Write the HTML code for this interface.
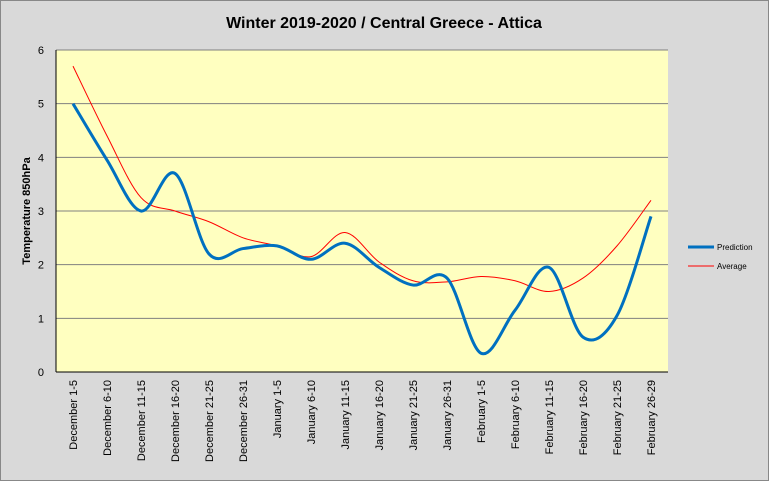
<!DOCTYPE html>
<html><head><meta charset="utf-8"><style>
html,body{margin:0;padding:0;overflow:hidden;background:#d9d9d9;font-family:"Liberation Sans",sans-serif}
svg{display:block}
</style></head><body>
<svg width="769" height="481" xmlns="http://www.w3.org/2000/svg" id="chart">
<rect x="0.5" y="0.5" width="768" height="480" fill="#d9d9d9" stroke="#888"/>
<text x="384" y="28" text-anchor="middle" font-size="16" font-weight="bold">Winter 2019-2020 / Central Greece - Attica</text>
<rect x="56" y="50" width="612" height="322" fill="#ffffc0"/>
<g id="grid"></g><g id="series"></g><g id="labels"></g>
<text transform="translate(30,211) rotate(-90)" text-anchor="middle" font-size="11" font-weight="bold">Temperature 850hPa</text>
<g>
<line x1="688" y1="247" x2="714" y2="247" stroke="#0070c0" stroke-width="3"/>
<text x="717" y="250" font-size="8">Prediction</text>
<line x1="688" y1="266" x2="714" y2="266" stroke="#ff0000" stroke-width="1"/>
<text x="717" y="269" font-size="8">Average</text>
</g>
</svg>
<script>
const categories=["December 1-5","December 6-10","December 11-15","December 16-20","December 21-25","December 26-31","January 1-5","January 6-10","January 11-15","January 16-20","January 21-25","January 26-31","February 1-5","February 6-10","February 11-15","February 16-20","February 21-25","February 26-29"];
const prediction=[5.0,3.95,3.0,3.7,2.2,2.3,2.35,2.1,2.4,1.95,1.62,1.75,0.35,1.15,1.95,0.65,1.05,2.9];
const average=[5.7,4.4,3.25,3.0,2.8,2.5,2.35,2.15,2.6,2.05,1.7,1.68,1.78,1.7,1.5,1.75,2.35,3.2];
const yTicks=[0,1,2,3,4,5,6];
const NS="http://www.w3.org/2000/svg";
const X0=56,W=612,Y0=372,H=322,YMAX=6;
const xs=i=>X0+(i+0.5)*W/categories.length;
const ys=v=>Y0-v/YMAX*H;
const grid=document.getElementById('grid'),labels=document.getElementById('labels'),series=document.getElementById('series');
yTicks.forEach(t=>{
 const l=document.createElementNS(NS,'line');
 
 
 l.setAttribute('x1',X0);l.setAttribute('x2',X0+W);l.setAttribute('y1',ys(t));l.setAttribute('y2',ys(t));
 l.setAttribute('stroke',t===0?'#000':'#808080');l.setAttribute('stroke-width','1');
 grid.appendChild(l);
 const tx=document.createElementNS(NS,'text');
 
 
 tx.setAttribute('x',X0-12);tx.setAttribute('y',ys(t)+4);tx.setAttribute('text-anchor','end');tx.setAttribute('font-size','11');
 tx.textContent=t;labels.appendChild(tx);
});
const ax=document.createElementNS(NS,'line');


ax.setAttribute('x1',X0);ax.setAttribute('x2',X0);ax.setAttribute('y1',ys(YMAX));ax.setAttribute('y2',Y0);ax.setAttribute('stroke','#000');
grid.appendChild(ax);
categories.forEach((c,i)=>{
 const tx=document.createElementNS(NS,'text');
 
 
 const x=xs(i)+4,y=380;
 tx.setAttribute('transform',`translate(${x},${y}) rotate(-90)`);
 tx.setAttribute('text-anchor','end');tx.setAttribute('font-size','11');
 tx.textContent=c;labels.appendChild(tx);
});
function smooth(vals){
 const p=vals.map((v,i)=>[xs(i),ys(v)]);
 let d=`M${p[0][0]},${p[0][1]}`;
 for(let i=0;i<p.length-1;i++){
  const a=p[i-1]||p[i],b=p[i],c=p[i+1],e=p[i+2]||c;
  const k=6;
  d+=` C${b[0]+(c[0]-a[0])/k},${b[1]+(c[1]-a[1])/k} ${c[0]-(e[0]-b[0])/k},${c[1]-(e[1]-b[1])/k} ${c[0]},${c[1]}`;
 }
 return d;
}
const pa=document.createElementNS(NS,'path');


pa.setAttribute('d',smooth(average));pa.setAttribute('fill','none');pa.setAttribute('stroke','#ff0000');pa.setAttribute('stroke-width','1');
series.appendChild(pa);
const pp=document.createElementNS(NS,'path');


pp.setAttribute('d',smooth(prediction));pp.setAttribute('fill','none');pp.setAttribute('stroke','#0070c0');pp.setAttribute('stroke-width','3');
series.appendChild(pp);
</script>
</body></html>
